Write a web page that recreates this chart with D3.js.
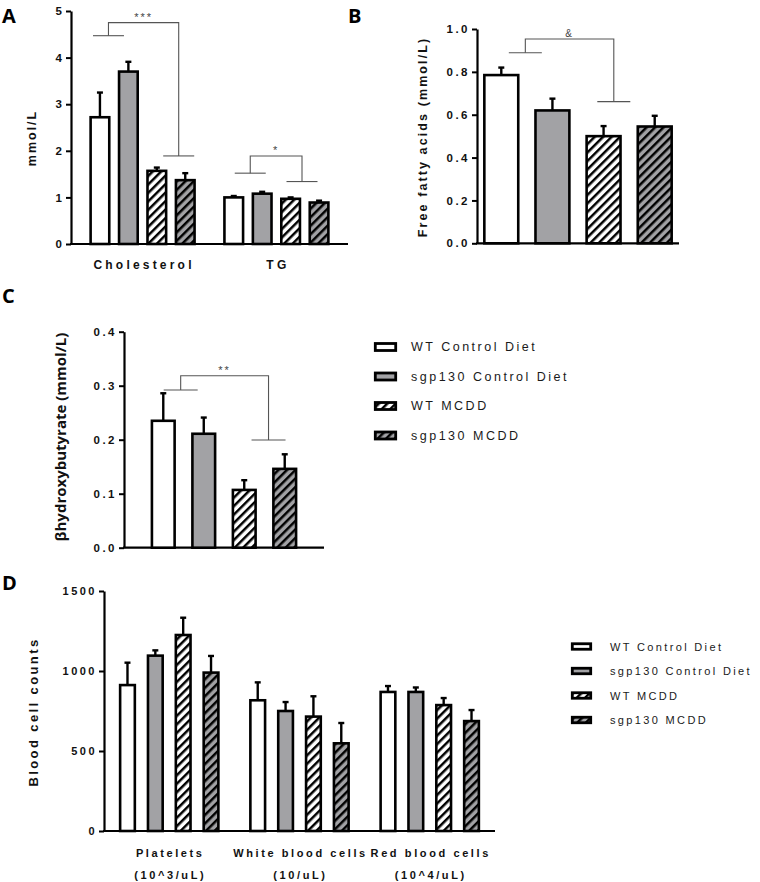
<!DOCTYPE html>
<html><head><meta charset="utf-8">
<script src="https://cdn.jsdelivr.net/npm/d3@7"></script>
<style>body{margin:0;background:#fff} svg{display:block}</style>
</head><body><svg id="c" width="760" height="882"></svg>
<script>
// ---------- DATA ----------
const groups = ["WT Control Diet", "sgp130 Control Diet", "WT MCDD", "sgp130 MCDD"];

const lipidCategories = ["Cholesterol", "TG"];
const cholesterolMean = [2.72, 3.70, 1.57, 1.37];
const cholesterolSem  = [0.53, 0.21, 0.07, 0.15];
const tgMean = [1.00, 1.08, 0.97, 0.89];
const tgSem  = [0.03, 0.04, 0.03, 0.04];

const ffaCategories = ["FFA"];
const ffaMean = [0.785, 0.620, 0.500, 0.545];
const ffaSem  = [0.035, 0.055, 0.047, 0.050];

const bhbCategories = ["BHB"];
const bhbMean = [0.235, 0.211, 0.107, 0.146];
const bhbSem  = [0.051, 0.030, 0.018, 0.027];

const bloodCategories = ["Platelets", "White blood cells", "Red blood cells"];
const bloodUnits = ["(10^3/uL)", "(10/uL)", "(10^4/uL)"];
const plateletMean = [912, 1096, 1225, 990];
const plateletSem  = [140, 33, 108, 104];
const wbcMean = [817, 750, 715, 548];
const wbcSem  = [112, 56, 127, 127];
const rbcMean = [869, 869, 787, 687];
const rbcSem  = [37, 28, 44, 69];

const ticksA = [0, 1, 2, 3, 4, 5];
const ticksB = [0, 0.2, 0.4, 0.6, 0.8, 1.0];
const ticksC = [0, 0.1, 0.2, 0.3, 0.4];
const ticksD = [0, 500, 1000, 1500];

// significance brackets: bar-index positions of left/right arms, heights in data units
const sigA = [
  {cat: "Cholesterol", li: 0.30, ri: 2.77, yl: 4.47, yt: 4.75, yr: 1.89, label: "***"},
  {cat: "TG", li: 0.58, ri: 2.40, yl: 1.52, yt: 1.89, yr: 1.34, label: "*"}
];
const sigB = [{cat: "FFA", li: 0.47, ri: 2.20, yl: 0.889, yt: 0.953, yr: 0.661, label: "&"}];
const sigC = [{cat: "BHB", li: 0.43, ri: 2.60, yl: 0.292, yt: 0.3185, yr: 0.1995, label: "**"}];

// ---------- DRAWING ----------
const svg = d3.select("#c");
const defs = svg.append("defs");
const GRAY = "#a2a2a5";
function hatch(id, bg) {
  const p = defs.append("pattern").attr("id", id).attr("patternUnits", "userSpaceOnUse")
    .attr("width", 6).attr("height", 6).attr("patternTransform", "rotate(45)");
  p.append("rect").attr("width", 6).attr("height", 6).attr("fill", bg);
  p.append("rect").attr("x", 0).attr("y", 0).attr("width", 2.5).attr("height", 6).attr("fill", "#000");
}
hatch("hW", "#fff");
hatch("hG", GRAY);
const fills = ["#fff", GRAY, "url(#hW)", "url(#hG)"];
const FONT = "'Liberation Sans', Arial, sans-serif";

function panel(o) {
  const g = svg.append("g");
  const y = d3.scaleLinear().domain(o.yDomain).range(o.yRange);
  const x = d3.scaleBand().domain(o.cats).range(o.xRange).paddingInner(o.pI).paddingOuter(o.pO);
  const xi = d3.scaleBand().domain(groups).range([0, x.bandwidth()]).paddingInner(o.iPI).paddingOuter(o.iPO);
  const y0 = y(0);

  // axes
  const ya = g.append("g").attr("transform", `translate(${o.xRange[0]},0)`)
    .call(d3.axisLeft(y).tickValues(o.ticks).tickFormat(o.fmt).tickSize(5).tickSizeOuter(0).tickPadding(o.tickPad || 2));
  ya.select(".domain").attr("stroke-width", 2.2);
  ya.selectAll(".tick line").attr("stroke-width", 2);
  ya.selectAll("text").attr("font-family", FONT).attr("font-weight", "bold")
    .attr("font-size", o.tickFs).style("letter-spacing", o.tickLs + "px").attr("fill", "#111");
  g.append("line").attr("x1", o.xRange[0] - 1).attr("x2", o.xRange[1]).attr("y1", y0).attr("y2", y0)
    .attr("stroke", "#000").attr("stroke-width", 2.2);

  // bars
  o.cats.forEach((c, ci) => {
    const m = o.means[ci], s = o.sems[ci];
    groups.forEach((gr, gi) => {
      const bx = x(c) + xi(gr), bw = xi.bandwidth(), cx = bx + bw / 2;
      // error bar
      g.append("line").attr("x1", cx).attr("x2", cx).attr("y1", y(m[gi])).attr("y2", y(m[gi] + s[gi]))
        .attr("stroke", "#000").attr("stroke-width", 2.4);
      g.append("line").attr("x1", cx - 3).attr("x2", cx + 3).attr("y1", y(m[gi] + s[gi])).attr("y2", y(m[gi] + s[gi]))
        .attr("stroke", "#000").attr("stroke-width", 2.4);
      g.append("rect").attr("x", bx + 1.2).attr("y", y(m[gi])).attr("width", bw - 2.4).attr("height", y0 - y(m[gi]))
        .attr("fill", fills[gi]).attr("stroke", "#000").attr("stroke-width", 2.6);
    });
  });

  // significance brackets
  (o.sig || []).forEach(b => {
    const c0 = x(b.cat) + xi(groups[0]) + xi.bandwidth() / 2, st = xi.step();
    const lx = c0 + b.li * st, rx = c0 + b.ri * st, hw = o.sigHW;
    const sg = g.append("g").attr("stroke", "#555").attr("stroke-width", 1.1).attr("fill", "none");
    sg.append("line").attr("x1", lx - hw).attr("x2", lx + hw).attr("y1", y(b.yl)).attr("y2", y(b.yl));
    sg.append("line").attr("x1", rx - hw).attr("x2", rx + hw).attr("y1", y(b.yr)).attr("y2", y(b.yr));
    sg.append("path").attr("d", d3.line()([[lx, y(b.yl)], [lx, y(b.yt)], [rx, y(b.yt)], [rx, y(b.yr)]]));
    g.append("text").attr("x", (lx + rx) / 2).attr("y", y(b.yt) - 2).attr("text-anchor", "middle")
      .attr("font-family", FONT).attr("font-size", o.sigFs || 11).attr("fill", "#444")
      .style("letter-spacing", "2px").text(b.label);
  });
  return {g, x, y};
}

function ylabel(txt, cx, cy, fs, ls, fam) {
  svg.append("text").attr("transform", `translate(${cx},${cy}) rotate(-90)`).attr("text-anchor", "middle")
    .attr("dominant-baseline", "central").attr("font-family", fam || FONT).attr("font-weight", "bold")
    .attr("font-size", fs).style("letter-spacing", ls + "px").attr("fill", "#111").text(txt);
}
function letter(t, x, y) {
  svg.append("text").attr("x", x).attr("y", y).attr("font-family", "'Open Sans', sans-serif")
    .attr("font-weight", "bold").attr("font-size", 20).attr("fill", "#000").text(t);
}
function legend(x0, y0, dy, sw, sh, fs, ls, tx) {
  groups.forEach((gr, i) => {
    const yy = y0 + i * dy;
    svg.append("rect").attr("x", x0 + 1.3).attr("y", yy - sh / 2).attr("width", sw - 2.6).attr("height", sh)
      .attr("fill", fills[i]).attr("stroke", "#000").attr("stroke-width", 2.8);
    svg.append("text").attr("x", tx).attr("y", yy).attr("dominant-baseline", "central")
      .attr("font-family", FONT).attr("font-size", fs).style("letter-spacing", ls + "px").attr("fill", "#1a1a1a").text(gr);
  });
}

// Panel A
const A = panel({cats: lipidCategories, means: [cholesterolMean, tgMean], sems: [cholesterolSem, tgSem],
  yDomain: [0, 5], yRange: [244, 11], xRange: [71, 348], pI: 0.15, pO: 0.11, iPI: 0.26, iPO: 0.13,
  ticks: ticksA, fmt: d3.format("d"), tickFs: 11.5, tickLs: 2, sig: sigA, sigHW: 15.5});
lipidCategories.forEach(c => {
  svg.append("text").attr("x", A.x(c) + A.x.bandwidth() / 2 + 1.5).attr("y", 269).attr("text-anchor", "middle")
    .attr("font-family", FONT).attr("font-weight", "bold").attr("font-size", 12).style("letter-spacing", "3.2px")
    .attr("fill", "#111").text(c);
});
ylabel("mmol/L", 32, 138, 12.5, 2);
letter("A", 2, 23);

// Panel B
panel({cats: ffaCategories, means: [ffaMean], sems: [ffaSem],
  yDomain: [0, 1], yRange: [243.3, 29], xRange: [477, 679], pI: 0, pO: 0, iPI: 0.29, iPO: 0.12,
  ticks: ticksB, fmt: d3.format(".1f"), tickFs: 11.5, tickLs: 2.5, sig: sigB, sigHW: 16.5, sigFs: 10});
ylabel("Free fatty acids (mmol/L)", 423, 137, 12.5, 2.1);
letter("B", 348, 23);

// Panel C
panel({cats: bhbCategories, means: [bhbMean], sems: [bhbSem],
  yDomain: [0, 0.4], yRange: [547.7, 331.7], xRange: [124, 324], pI: 0, pO: 0, iPI: 0.38, iPO: 0.66,
  ticks: ticksC, fmt: d3.format(".1f"), tickFs: 11.5, tickLs: 2.5, sig: sigC, sigHW: 17});
ylabel("\u03B2hydroxybutyrate (mmol/L)", 60, 437, 15, 0, "'Open Sans', sans-serif");
letter("C", 2, 303);
legend(374, 347, 29.5, 23, 7, 12.5, 2.5, 411);

// Panel D
const D = panel({cats: bloodCategories, means: [plateletMean, wbcMean, rbcMean], sems: [plateletSem, wbcSem, rbcSem],
  yDomain: [0, 1500], yRange: [831, 591], xRange: [104, 495], pI: 0.146, pO: 0.074, iPI: 0.386, iPO: 0.19,
  ticks: ticksD, fmt: d3.format("d"), tickFs: 11, tickLs: 2.5});
bloodCategories.forEach((c, i) => {
  const cx = D.x(c) + D.x.bandwidth() / 2 + 1;
  svg.append("text").attr("x", cx).attr("y", 857).attr("text-anchor", "middle")
    .attr("font-family", FONT).attr("font-weight", "bold").attr("font-size", 11).style("letter-spacing", "2.6px")
    .attr("fill", "#111").text(c);
  svg.append("text").attr("x", cx).attr("y", 879).attr("text-anchor", "middle")
    .attr("font-family", FONT).attr("font-weight", "bold").attr("font-size", 11).style("letter-spacing", "2.6px")
    .attr("fill", "#111").text(bloodUnits[i]);
});
ylabel("Blood cell counts", 33, 712, 13, 2.4);
letter("D", 2, 590);
legend(571, 646.5, 24.5, 21, 5.5, 11, 2.35, 610);
</script></body></html>
